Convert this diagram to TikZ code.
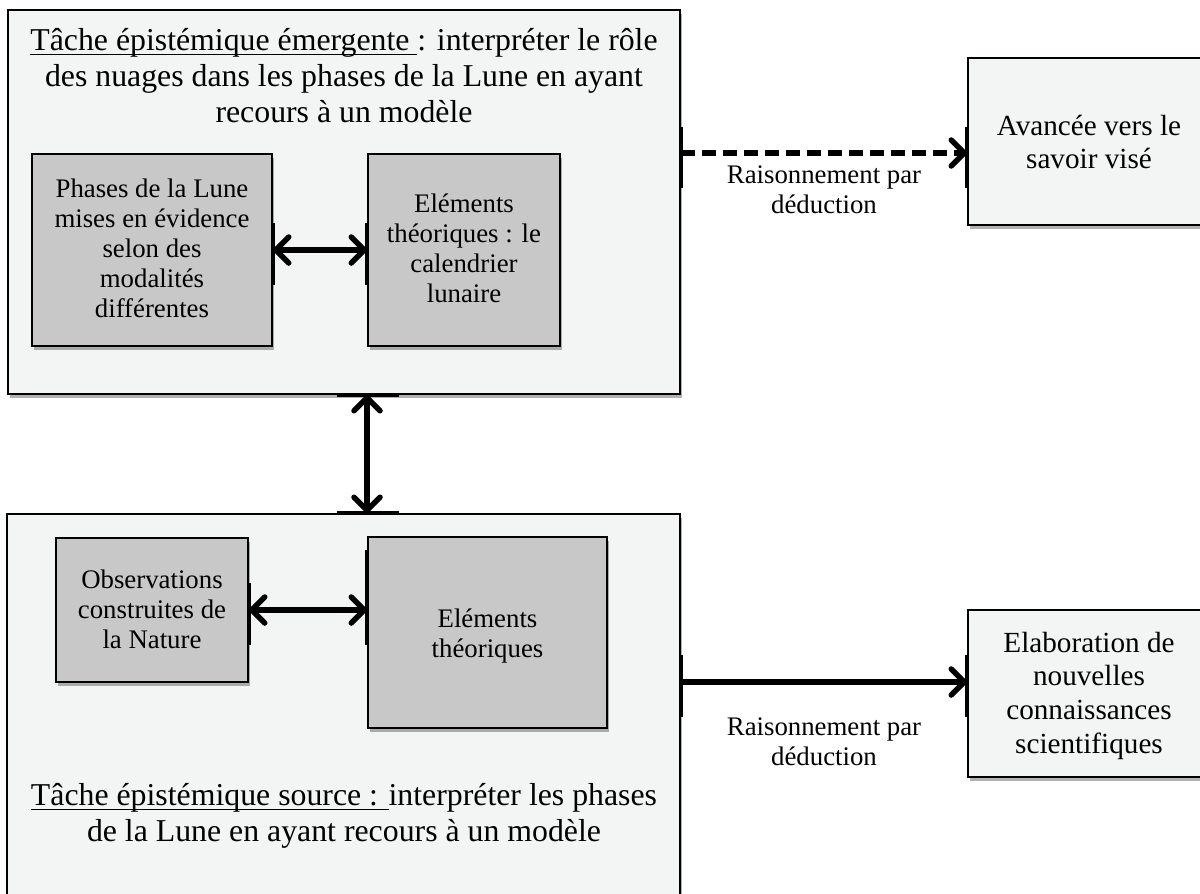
\documentclass[tikz,border=0pt]{standalone}
\usepackage{fontspec}
\setmainfont{Liberation Serif}
\usetikzlibrary{arrows.meta,shadows}
\definecolor{bgfill}{RGB}{243,245,244}
\definecolor{innerfill}{RGB}{200,200,200}
\newcommand\ulx[1]{\setbox0\hbox{#1}\rlap{\rule[-5pt]{\wd0}{1.5pt}}\box0}
\newcommand\lns[1]{\begin{tabular}[t]{@{}c@{}}#1\end{tabular}}
\tikzset{
  shad/.style={drop shadow={shadow xshift=2pt,shadow yshift=-4pt,opacity=0.3,fill=black}},
  bigbox/.style={draw=black,line width=2pt,fill=bgfill,inner sep=0pt,shad},
  innerbox/.style={draw=black,line width=2pt,fill=innerfill,inner sep=0pt,shad},
  titletxt/.style={anchor=base,inner sep=0pt,font=\fontsize{31.8}{36}\selectfont},
  boxtxt/.style={anchor=base,inner sep=0pt,font=\fontsize{26.8}{30}\selectfont},
  sidetxt/.style={anchor=base,inner sep=0pt,font=\fontsize{29.2}{33.8}\selectfont},
  labtxt/.style={anchor=base,inner sep=0pt,font=\fontsize{26.8}{30}\selectfont},
  conn/.style={line width=5.5pt,{Straight Barb[length=13pt,width=26pt,round]}-{Straight Barb[length=13pt,width=26pt,round]}},
  oneway/.style={line width=5.5pt,-{Straight Barb[length=13pt,width=26pt,round]}},
  tick/.style={line width=4pt}
}
\begin{document}
\begin{tikzpicture}[x=1pt,y=-1pt]
\fill[white] (0,0) rectangle (1200,894);
\useasboundingbox (0,0) rectangle (1200,894);
% big boxes
\node[bigbox,minimum width=672pt,minimum height=384pt] (emg) at (344,202) {};
\node[bigbox,minimum width=673pt,minimum height=384pt] (src) at (343.5,706) {};
% right boxes
\node[bigbox,minimum width=242pt,minimum height=167pt] (av) at (1089,141.5) {};
\node[bigbox,minimum width=242pt,minimum height=167pt] (el) at (1089,693.5) {};
% inner boxes
\node[innerbox,minimum width=240pt,minimum height=192pt] (pl) at (152,250) {};
\node[innerbox,minimum width=192pt,minimum height=192pt] (et) at (464,250) {};
\node[innerbox,minimum width=192pt,minimum height=144pt] (obs) at (152,610) {};
\node[innerbox,minimum width=239pt,minimum height=191pt] (et2) at (487.5,632.5) {};
% texts
\node[titletxt] (emgT) at (344,50) {\lns{\ulx{Tâche épistémique émergente }: interpréter le rôle\\des nuages dans les phases de la Lune en ayant\\recours à un modèle}};
\node[titletxt] (srcT) at (344,805) {\lns{\ulx{Tâche épistémique source : }interpréter les phases\\de la Lune en ayant recours à un modèle}};
\node[boxtxt] (plT) at (152,197) {\lns{Phases de la Lune\\mises en évidence\\selon des\\modalités\\différentes}};
\node[boxtxt] (etT) at (464,212) {\lns{Eléments\\théoriques : le\\calendrier\\lunaire}};
\node[boxtxt] (obsT) at (152,588) {\lns{Observations\\construites de\\la Nature}};
\node[boxtxt] (et2T) at (487.5,627) {\lns{Eléments\\théoriques}};
\node[sidetxt] (avT) at (1089,135) {\lns{Avancée vers le\\savoir visé}};
\node[sidetxt] (elT) at (1089,652) {\lns{Elaboration de\\nouvelles\\connaissances\\scientifiques}};
\node[labtxt] (lab1) at (824,183) {\lns{Raisonnement par\\déduction}};
\node[labtxt] (lab2) at (824,735) {\lns{Raisonnement par\\déduction}};
% connector anchor points
\coordinate (d1) at (emg.east |- 0,153);
\coordinate (s1) at (src.east |- 0,682);
% ticks on box edges
\draw[tick] (emg.east |- 0,127) -- (emg.east |- 0,188);
\draw[tick] (av.west |- 0,127) -- (av.west |- 0,188);
\draw[tick] (src.east |- 0,655) -- (src.east |- 0,717);
\draw[tick] (el.west |- 0,655) -- (el.west |- 0,717);
\draw[tick] (emg.south -| 337,0) -- (emg.south -| 399,0);
\draw[tick] (src.north -| 337,0) -- (src.north -| 399,0);
\draw[tick] (pl.east |- 0,223) -- (pl.east |- 0,285);
\draw[tick] (et.west |- 0,223) -- (et.west |- 0,285);
\draw[tick] (obs.east |- 0,583) -- (obs.east |- 0,645);
\draw[tick] (et2.west |- 0,550) -- (et2.west |- 0,645);
% connectors
\draw[conn] (pl.east) -- (et.west);
\draw[conn] (obs.east) -- (obs.east -| et2.west);
\draw[conn] (emg.south -| et.west) -- (src.north -| et.west);
\draw[oneway,dash pattern=on 14pt off 7pt] (d1) -- (d1 -| av.west);
\draw[oneway] (s1) -- (s1 -| el.west);
\end{tikzpicture}
\end{document}
